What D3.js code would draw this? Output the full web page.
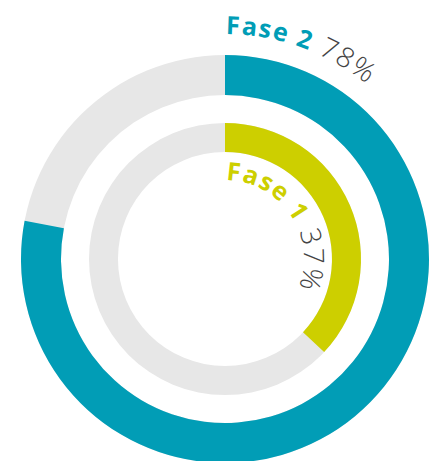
<!DOCTYPE html>
<html>
<head>
<meta charset="utf-8">
<script src="https://cdn.jsdelivr.net/npm/d3@7"></script>
<style>
  body { margin: 0; background: #fff; }
  text { font-family: "Open Sans", sans-serif; }
</style>
</head>
<body>
<div id="chart"></div>
<script>
const phases = ["Fase 1", "Fase 2"];
const values = [37, 78];
const colors = ["#cdcf00", "#019db6"];

const width = 436, height = 461;
const cx = 225, cy = 259;

// ring geometry per phase: [inner, outer, label radius]
const rings = [
  { inner: 107, outer: 136, label: 79 },
  { inner: 164, outer: 204, label: 225 }
];

const svg = d3.select('#chart')
  .append('svg')
  .attr('width', width)
  .attr('height', height)
  .append('g')
  .attr('transform', `translate(${cx},${cy})`);

const angle = d3.scaleLinear().domain([0, 100]).range([0, 2 * Math.PI]);

phases.forEach((p, i) => {
  const r = rings[i];
  const arc = d3.arc().innerRadius(r.inner).outerRadius(r.outer);

  // background
  svg.append('path')
    .attr('d', arc({ startAngle: 0, endAngle: angle(100) }))
    .attr('fill', '#e7e7e7');

  // value
  svg.append('path')
    .attr('d', arc({ startAngle: 0, endAngle: angle(values[i]) }))
    .attr('fill', colors[i]);

  // label path: circle starting at top, clockwise
  const lp = d3.path();
  lp.moveTo(0, -r.label);
  lp.arc(0, 0, r.label, -Math.PI / 2, Math.PI * 1.5 - 0.001);
  svg.append('path')
    .attr('id', 'lbl' + i)
    .attr('d', lp.toString())
    .attr('fill', 'none');

  const t = svg.append('text')
    .style('font-size', '25px')
    .append('textPath')
    .attr('href', '#lbl' + i)
    .attr('startOffset', 1);

  t.append('tspan')
    .text(p)
    .attr('fill', colors[i])
    .style('font-weight', 'bold')
    .style('letter-spacing', '1.5px');

  t.append('tspan')
    .text(' ' + values[i] + '%')
    .attr('fill', '#444')
    .style('font-size', '28px')
    .style('font-weight', '300')
    .style('letter-spacing', '1.5px');
});
</script>
</body>
</html>
